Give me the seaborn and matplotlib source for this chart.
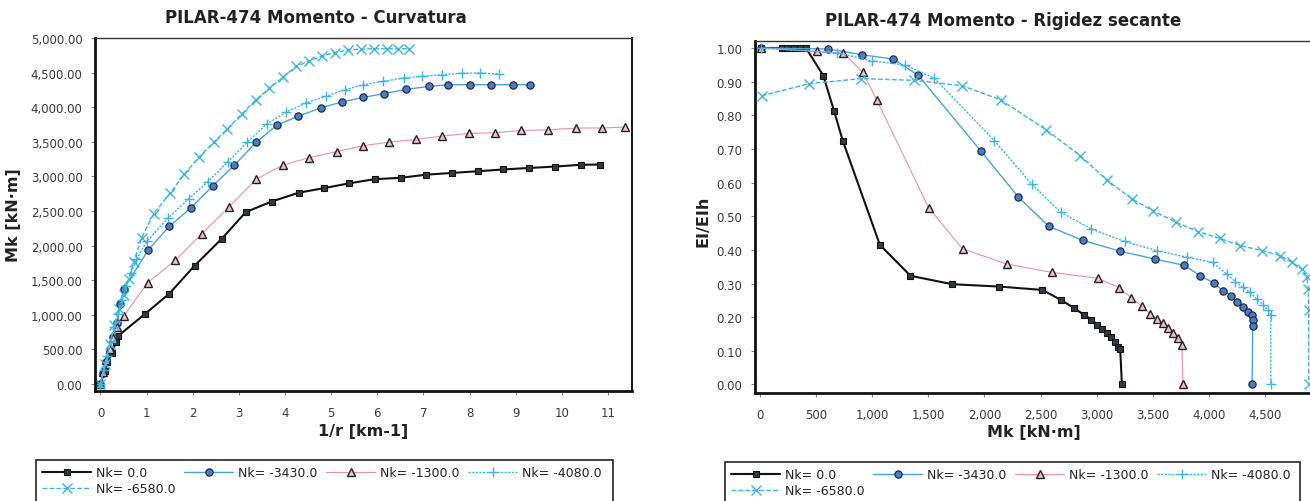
import numpy as np
import pandas as pd
import matplotlib
matplotlib.use("Agg")
import matplotlib.pyplot as plt
from matplotlib.ticker import FuncFormatter, FixedLocator
from matplotlib.patches import Rectangle
import seaborn as sns

# ---------------- data: left chart (curvature 1/r [km-1], Mk [kN·m]) ----------------
series_labels = ["Nk= 0.0", "Nk= -3430.0", "Nk= -1300.0", "Nk= -4080.0", "Nk= -6580.0"]

curv_n0 = [0, 0.09, 0.15, 0.25, 0.33, 0.39, 0.97, 1.49, 2.04, 2.63, 3.15, 3.71, 4.30, 4.84, 5.39,
           5.94, 6.51, 7.06, 7.62, 8.19, 8.72, 9.29, 9.85, 10.41, 10.83]
mom_n0 = [0, 193, 313, 448, 602, 700, 1015, 1305, 1710, 2100, 2485, 2637, 2765, 2830, 2900,
          2960, 2980, 3025, 3050, 3075, 3100, 3122, 3142, 3168, 3172]

curv_n3430 = [0, 0.06, 0.13, 0.20, 0.28, 0.36, 0.43, 0.50, 1.04, 1.49, 1.96, 2.43, 2.90, 3.37, 3.82,
              4.29, 4.77, 5.23, 5.70, 6.14, 6.62, 7.11, 7.53, 8.01, 8.46, 8.93, 9.31]
mom_n3430 = [0, 160, 313, 480, 680, 880, 1156, 1373, 1941, 2278, 2545, 2860, 3162, 3490, 3740,
             3870, 3990, 4075, 4142, 4195, 4257, 4300, 4325, 4325, 4325, 4325, 4325]

curv_n1300 = [0, 0.06, 0.13, 0.20, 0.28, 0.36, 0.50, 1.02, 1.62, 2.19, 2.79, 3.37, 3.95, 4.53, 5.12,
              5.69, 6.26, 6.84, 7.41, 7.98, 8.55, 9.11, 9.71, 10.30, 10.88, 11.37]
mom_n1300 = [0, 170, 340, 500, 660, 820, 978, 1465, 1785, 2168, 2560, 2958, 3162, 3272, 3358,
             3443, 3496, 3534, 3583, 3621, 3631, 3664, 3674, 3698, 3700, 3713]

curv_n4080 = [0, 0.07, 0.14, 0.22, 0.30, 0.38, 0.47, 0.56, 0.66, 0.78, 1.00, 1.47, 1.91, 2.33, 2.76,
              3.18, 3.60, 4.02, 4.45, 4.88, 5.30, 5.70, 6.12, 6.57, 6.97, 7.41, 7.83, 8.23, 8.64]
mom_n4080 = [0, 200, 400, 610, 820, 1010, 1210, 1410, 1600, 1800, 2060, 2400, 2675, 2925, 3210,
             3494, 3755, 3928, 4060, 4157, 4253, 4325, 4373, 4421, 4445, 4470, 4490, 4495, 4480]

curv_n6580 = [0, 0.10, 0.20, 0.30, 0.40, 0.50, 0.61, 0.72, 0.89, 1.15, 1.51, 1.82, 2.13, 2.45, 2.75,
              3.06, 3.37, 3.66, 3.95, 4.24, 4.52, 4.80, 5.08, 5.36, 5.64, 5.92, 6.20, 6.45, 6.68]
mom_n6580 = [0, 290, 580, 850, 1090, 1290, 1520, 1760, 2110, 2456, 2759, 3034, 3275, 3492, 3685,
             3901, 4108, 4272, 4431, 4590, 4665, 4740, 4790, 4825, 4840, 4845, 4845, 4845, 4845]

# ---------------- data: right chart (Mk [kN·m], EI/EIh) ----------------
mk_n0 = [10, 200, 245, 300, 355, 410, 564, 659, 737, 1068, 1341, 1713, 2132, 2516, 2678, 2799,
         2887, 2954, 3002, 3046, 3090, 3131, 3167, 3193, 3210, 3225]
ei_n0 = [1.00, 1.00, 1.00, 1.00, 1.00, 1.00, 0.918, 0.814, 0.725, 0.415, 0.323, 0.298, 0.291,
         0.281, 0.252, 0.227, 0.207, 0.193, 0.178, 0.165, 0.152, 0.140, 0.125, 0.110, 0.104, 0.0]

mk_n3430 = [10, 608, 910, 1187, 1410, 1970, 2302, 2574, 2880, 3210, 3517, 3782, 3922, 4049, 4123,
            4195, 4254, 4302, 4352, 4382, 4391, 4391, 4385]
ei_n3430 = [1.0, 0.997, 0.98, 0.967, 0.919, 0.693, 0.557, 0.470, 0.428, 0.396, 0.373, 0.354, 0.323,
            0.301, 0.279, 0.264, 0.244, 0.229, 0.216, 0.206, 0.192, 0.175, 0.0]

mk_n1300 = [10, 505, 743, 915, 1040, 1503, 1805, 2199, 2604, 3009, 3200, 3308, 3404, 3476, 3539,
            3588, 3637, 3681, 3722, 3760, 3768]
ei_n1300 = [1.0, 0.99, 0.985, 0.928, 0.846, 0.525, 0.403, 0.358, 0.333, 0.316, 0.288, 0.258, 0.232,
            0.210, 0.196, 0.182, 0.168, 0.152, 0.137, 0.117, 0.0]

mk_n4080 = [10, 690, 1002, 1296, 1554, 2088, 2420, 2678, 2954, 3250, 3535, 3808, 4034, 4159, 4233,
            4302, 4367, 4426, 4486, 4531, 4552, 4552]
ei_n4080 = [1.0, 0.985, 0.962, 0.949, 0.910, 0.725, 0.596, 0.512, 0.462, 0.425, 0.398, 0.378, 0.363,
            0.328, 0.306, 0.289, 0.274, 0.254, 0.236, 0.220, 0.207, 0.0]

mk_n6580 = [15, 438, 902, 1370, 1801, 2144, 2549, 2854, 3090, 3313, 3506, 3708, 3907, 4100, 4278,
            4471, 4635, 4739, 4828, 4872, 4887, 4890, 4890]
ei_n6580 = [0.858, 0.894, 0.909, 0.904, 0.888, 0.846, 0.757, 0.680, 0.608, 0.552, 0.515, 0.482,
            0.454, 0.434, 0.413, 0.398, 0.383, 0.363, 0.343, 0.319, 0.284, 0.22, 0.0]

left_x_ticks = list(range(0, 12))
left_y_ticks = [0, 500, 1000, 1500, 2000, 2500, 3000, 3500, 4000, 4500, 5000]
right_x_ticks = [0, 500, 1000, 1500, 2000, 2500, 3000, 3500, 4000, 4500]
right_y_ticks = [0.0, 0.1, 0.2, 0.3, 0.4, 0.5, 0.6, 0.7, 0.8, 0.9, 1.0]

left_data = [(curv_n0, mom_n0), (curv_n3430, mom_n3430), (curv_n1300, mom_n1300),
             (curv_n4080, mom_n4080), (curv_n6580, mom_n6580)]
right_data = [(mk_n0, ei_n0), (mk_n3430, ei_n3430), (mk_n1300, ei_n1300),
              (mk_n4080, ei_n4080), (mk_n6580, ei_n6580)]

# ---------------- styles ----------------
styles = [
    dict(color="#111111", lw=1.5, ls="-", marker="s", ms=4.6, mfc="#2d3a44", mec="#111111", mew=0.8),
    dict(color="#4aa2dc", lw=1.0, ls="-", marker="o", ms=5.2, mfc="#4a7cc6", mec="#1d2b44", mew=0.9),
    dict(color="#f08ea6", lw=0.8, ls="-", marker="^", ms=5.8, mfc="#f2bccb", mec="#222222", mew=1.0),
    dict(color="#3db4e4", lw=1.0, ls=(0, (1.6, 1.0)), marker="+", ms=7, mfc="#3db4e4", mec="#3db4e4", mew=1.0),
    dict(color="#3db4e4", lw=1.0, ls=(0, (3.5, 1.5)), marker="x", ms=6.5, mfc="#3db4e4", mec="#3db4e4", mew=1.0),
]

sns.set_style("white")
plt.rcParams["font.family"] = ["DejaVu Sans"]

W, H = 1310, 502
fig = plt.figure(figsize=(W / 100, H / 100), dpi=100)


def fig_rect(l, t, r, b):
    return [l / W, 1 - b / H, (r - l) / W, (b - t) / H]


ax1 = fig.add_axes(fig_rect(95, 39, 632, 392))
ax2 = fig.add_axes(fig_rect(755, 41.7, 1313, 394))

handles = []
for (xs, ys), lab, st in zip(left_data, series_labels, styles):
    df = pd.DataFrame({"x": xs, "y": ys})
    sns.lineplot(data=df, x="x", y="y", ax=ax1, sort=False, estimator=None,
                 color=st["color"], linewidth=st["lw"], linestyle=st["ls"],
                 marker=st["marker"], markersize=st["ms"], markerfacecolor=st["mfc"],
                 markeredgecolor=st["mec"], markeredgewidth=st["mew"], label=lab, legend=False)
    handles.append(ax1.lines[-1])

for (xs, ys), lab, st in zip(right_data, series_labels, styles):
    df = pd.DataFrame({"x": xs, "y": ys})
    sns.lineplot(data=df, x="x", y="y", ax=ax2, sort=False, estimator=None,
                 color=st["color"], linewidth=st["lw"], linestyle=st["ls"],
                 marker=st["marker"], markersize=st["ms"], markerfacecolor=st["mfc"],
                 markeredgecolor=st["mec"], markeredgewidth=st["mew"], label=lab, legend=False)

ax1.set_xlim(-0.119, 11.52)
ax1.set_ylim(-101, 5000)
ax2.set_xlim(-44.6, 4928)
ax2.set_ylim(-0.0253, 1.0217)

ax1.xaxis.set_major_locator(FixedLocator(left_x_ticks))
ax1.yaxis.set_major_locator(FixedLocator(left_y_ticks))
ax2.xaxis.set_major_locator(FixedLocator(right_x_ticks))
ax2.yaxis.set_major_locator(FixedLocator(right_y_ticks))
ax1.xaxis.set_major_formatter(FuncFormatter(lambda v, p: f"{v:.0f}"))
ax1.yaxis.set_major_formatter(FuncFormatter(lambda v, p: f"{v:,.2f}"))
ax2.xaxis.set_major_formatter(FuncFormatter(lambda v, p: f"{v:,.0f}"))
ax2.yaxis.set_major_formatter(FuncFormatter(lambda v, p: f"{v:.2f}"))

for ax in (ax1, ax2):
    ax.set_facecolor("white")
    ax.grid(False)
    ax.tick_params(axis="both", which="major", bottom=True, left=True, length=3, width=0.8,
                   color="#888888", labelsize=8.5, labelcolor="#3a3a3a", direction="out")
    ax.tick_params(axis="x", pad=8)
    ax.tick_params(axis="y", pad=6)
    for side in ("left", "bottom"):
        ax.spines[side].set_color("#111111")
        ax.spines[side].set_linewidth(2.0)
    ax.spines["top"].set_color("#333333")
    ax.spines["top"].set_linewidth(1.0)
    ax.spines["top"].set_linestyle((0, (3, 1)))
    ax.spines["right"].set_color("#111111")
    ax.spines["right"].set_linewidth(1.4)

ax1.set_xlabel("1/r [km-1]", fontsize=11.5, fontweight="bold", color="#222222")
ax1.set_ylabel("Mk [kN·m]", fontsize=11.5, fontweight="bold", color="#222222")
ax2.set_xlabel("Mk [kN·m]", fontsize=11.5, fontweight="bold", color="#222222")
ax2.set_ylabel("EI/EIh", fontsize=11.5, fontweight="bold", color="#222222")
for ax, xc, yc in ((ax1, (0.5, -0.113), (-0.151, 0.5)), (ax2, (0.5, -0.108), (-0.093, 0.49))):
    ax.xaxis.set_label_coords(*xc)
    ax.xaxis.label.set_va("center")
    ax.yaxis.set_label_coords(*yc)
    ax.yaxis.label.set_va("center")

fig.text(316 / W, 1 - 18 / H, "PILAR-474 Momento - Curvatura", ha="center", va="center",
         fontsize=12, fontweight="bold", color="#222222")
fig.text(1003 / W, 1 - 21 / H, "PILAR-474 Momento - Rigidez secante", ha="center", va="center",
         fontsize=12, fontweight="bold", color="#222222")

order = [0, 4, 1, 2, 3]
leg_handles = [handles[i] for i in order]
leg_labels = [series_labels[i] for i in order]
for ax, (lx, ly, rx) in ((ax1, (36, 461, 613)), (ax2, (725, 463, 1300))):
    leg = ax.legend(leg_handles, leg_labels, loc="upper left", bbox_to_anchor=(lx / W, 1 - ly / H),
                    bbox_transform=fig.transFigure, ncol=4, fontsize=9, frameon=False,
                    borderpad=0.5, labelspacing=0.25, handlelength=3.9, handletextpad=0.4,
                    columnspacing=0.7, borderaxespad=0)
    for t in leg.get_texts():
        t.set_color("#222222")
    # legend box continues past the bottom edge of the picture, as in the reference
    fig.patches.append(Rectangle((lx / W, -0.05), (rx - lx) / W, 0.05 + (1 - ly / H) - 0.0,
                                 transform=fig.transFigure, fill=False, edgecolor="#222222",
                                 linewidth=1.2, zorder=5))

fig.savefig("out.png", dpi=100, facecolor="white")
